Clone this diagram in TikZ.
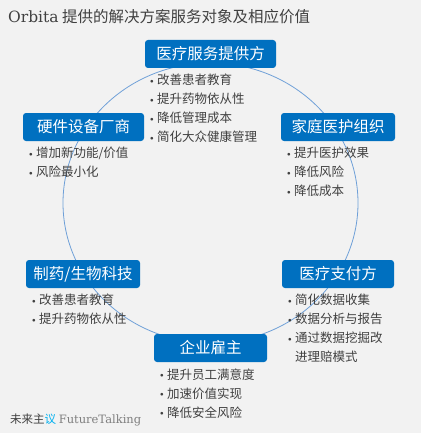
\documentclass[tikz,border=0pt]{standalone}
\usepackage{fontspec}
\setmainfont{Noto Sans CJK SC}
\newfontfamily\latinserif{DejaVu Serif}
\usepackage{tikz}
\usetikzlibrary{positioning}

\definecolor{boxblue}{HTML}{0070C0}
\definecolor{ringblue}{HTML}{6FA0D8}
\definecolor{textgray}{HTML}{404040}
\definecolor{bggray}{HTML}{F2F2F2}
\definecolor{brandcyan}{HTML}{00B0F0}
\definecolor{brandgray}{HTML}{7F7F7F}

% small bullet in a fixed-width box
\newcommand{\itm}{\makebox[7pt][l]{\raisebox{1.2pt}{\scalebox{0.6}{$\bullet$}}}}

\begin{document}
\begin{tikzpicture}[
    x=1pt, y=-1pt,
    party/.style={rectangle, rounded corners=3pt, fill=boxblue, text=white, inner sep=0pt, minimum height=28pt, font=\fontsize{15.5}{18}\selectfont},
    items/.style={align=left, inner sep=0pt, text=textgray, font=\fontsize{12.5}{19}\selectfont},
    ring/.style={draw=ringblue, line width=0.8pt}
]

\fill[bggray] (0,0) rectangle (421,433);

\node[anchor=west, inner sep=0pt, text=textgray, font=\fontsize{15.5}{18}\selectfont] (title) at (8,17) {{\latinserif Orbita} 提供的解决方案服务对象及相应价值};

\draw[ring] (210.5,203) ellipse [x radius=147.5, y radius=140];

\node[party, minimum width=131pt] (provider) at (210.5,54) {医疗服务提供方};
\node[party, minimum width=121pt] (hardware) at (83.5,127) {硬件设备厂商};
\node[party, minimum width=114pt] (homecare) at (338,127) {家庭医护组织};
\node[party, minimum width=114pt] (pharma) at (83,274) {制药/生物科技};
\node[party, minimum width=112pt] (payer) at (338,274) {医疗支付方};
\node[party, minimum width=113pt] (employer) at (210.5,348) {企业雇主};

\node[items, below right=6pt and 5pt of provider.south west] (providerlist) {\itm 改善患者教育\\ \itm 提升药物依从性\\ \itm 降低管理成本\\ \itm 简化大众健康管理};
\node[items, below right=6pt and 6pt of hardware.south west] (hardwarelist) {\itm 增加新功能/价值\\ \itm 风险最小化};
\node[items, below right=6pt and 6pt of homecare.south west] (homecarelist) {\itm 提升医护效果\\ \itm 降低风险\\ \itm 降低成本};
\node[items, below right=6pt and 6pt of pharma.south west] (pharmalist) {\itm 改善患者教育\\ \itm 提升药物依从性};
\node[items, below right=6pt and 6pt of payer.south west] (payerlist) {\itm 简化数据收集\\ \itm 数据分析与报告\\ \itm 通过数据挖掘改\\ \hspace*{7pt}进理赔模式};
\node[items, below right=6pt and 6pt of employer.south west] (employerlist) {\itm 提升员工满意度\\ \itm 加速价值实现\\ \itm 降低安全风险};

\node[anchor=west, inner sep=0pt, font=\fontsize{11.5}{14}\selectfont] (footer) at (10,420) {\textcolor{textgray}{未来主}\textcolor{brandcyan}{议} \textcolor{brandgray}{\latinserif FutureTalking}};

\end{tikzpicture}
\end{document}
